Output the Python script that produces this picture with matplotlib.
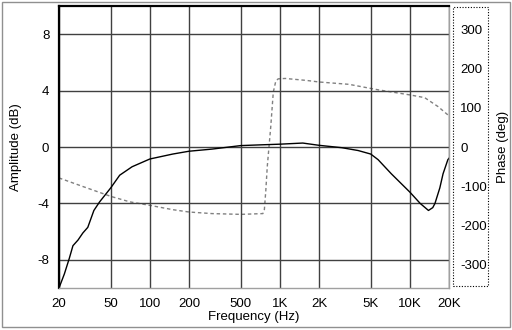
import matplotlib
matplotlib.use("Agg")
import matplotlib.pyplot as plt
import matplotlib.ticker as mtick
from matplotlib.patches import Rectangle

# amplitude response (Hz, dB)
amp_freq = [20, 22, 24, 25.6, 28, 30.5, 33.3, 37.1, 41, 50, 58.6, 73, 100, 150,
            200, 300, 500, 700, 1000, 1500, 2000, 3000, 4000, 5000, 5700, 7200,
            10000, 12000, 13900, 15000, 15600, 17000, 18000, 19600, 20000]
amp_db = [-10, -9.0, -7.9, -7.0, -6.6, -6.1, -5.7, -4.5, -3.9, -2.9, -2.0, -1.4,
          -0.85, -0.5, -0.3, -0.15, 0.1, 0.15, 0.2, 0.28, 0.12, -0.05, -0.25,
          -0.5, -0.9, -1.9, -3.2, -4.0, -4.5, -4.3, -4.0, -2.9, -1.9, -0.9, -0.8]

# phase response (Hz, deg)
ph_freq = [20, 30, 50, 70, 100, 150, 200, 300, 500, 740, 760, 780, 800, 850,
           890, 930, 970, 1100, 1600, 2000, 3400, 5700, 10000, 13000, 16500,
           19600, 20000]
ph_deg = [-79, -100, -126, -140, -149, -160, -166, -170, -172, -170, -160,
          -110, -50, 50, 140, 168, 174, 175, 170, 166, 160, 146, 133, 126, 103,
          82, 77]

xticks = [20, 50, 100, 200, 500, 1000, 2000, 5000, 10000, 20000]
xlabels = ["20", "50", "100", "200", "500", "1K", "2K", "5K", "10K", "20K"]
amp_ticks = [-8, -4, 0, 4, 8]
ph_ticks = [-300, -200, -100, 0, 100, 200, 300]

plt.rcParams['font.family'] = ['Liberation Sans', 'DejaVu Sans']
plt.rcParams['axes.unicode_minus'] = False
W, H = 512, 330
fig = plt.figure(figsize=(W / 100, H / 100), dpi=100)
fig.patch.set_facecolor('white')

L, R, T, B = 59, 449, 6, 288
ax = fig.add_axes([L / W, (H - B) / H, (R - L) / W, (B - T) / H])
ax.set_xscale('log')
ax.set_xlim(20, 20000)
ax.set_ylim(-10, 10)
ax.set_xticks(xticks)
ax.set_xticklabels(xlabels)
ax.xaxis.set_minor_locator(mtick.NullLocator())
ax.set_yticks(amp_ticks)
ax.grid(True, color='#404040', lw=1.0)
ax.tick_params(length=0, labelsize=9.5, pad=7)
ax.set_xlabel('Frequency (Hz)', fontsize=9.5)
ax.xaxis.set_label_coords(0.5, -0.08)
ax.set_ylabel('Amplitude (dB)', fontsize=9.5)
ax.yaxis.set_label_coords(-0.095, 0.5)

for s in ['left', 'top']:
    ax.spines[s].set_color('black')
    ax.spines[s].set_linewidth(1.6)
for s in ['right', 'bottom']:
    ax.spines[s].set_color('#a0a0a0')
    ax.spines[s].set_linewidth(1.0)

ax2 = ax.twinx()
ax2.set_ylim(-360, 360)
ax2.set_yticks(ph_ticks)
ax2.tick_params(length=0, labelsize=9.5, pad=8)
for s in ax2.spines.values():
    s.set_visible(False)
ax2.set_ylabel('Phase (deg)', fontsize=9.5, rotation=90)
ax2.yaxis.set_label_coords(1.122, 0.5)

ax2.plot(ph_freq, ph_deg, color='#808080', lw=1.0, linestyle=(0, (2.5, 2)))
ax.set_zorder(ax2.get_zorder() + 1)
ax.patch.set_visible(False)
ax.plot(amp_freq, amp_db, color='black', lw=1.0)

# dotted box around phase scale
fig.add_artist(Rectangle((453 / W, (H - 286) / H), 35 / W, 279 / H,
                         transform=fig.transFigure, fill=False,
                         edgecolor='black', lw=0.8, linestyle=(0, (1, 1.5))))
# window frame
fig.add_artist(Rectangle((2 / W, 3 / H), (W - 4) / W, (H - 5) / H,
                         transform=fig.transFigure, fill=False,
                         edgecolor='#909090', lw=1.0))

fig.savefig('out.png', dpi=100)
